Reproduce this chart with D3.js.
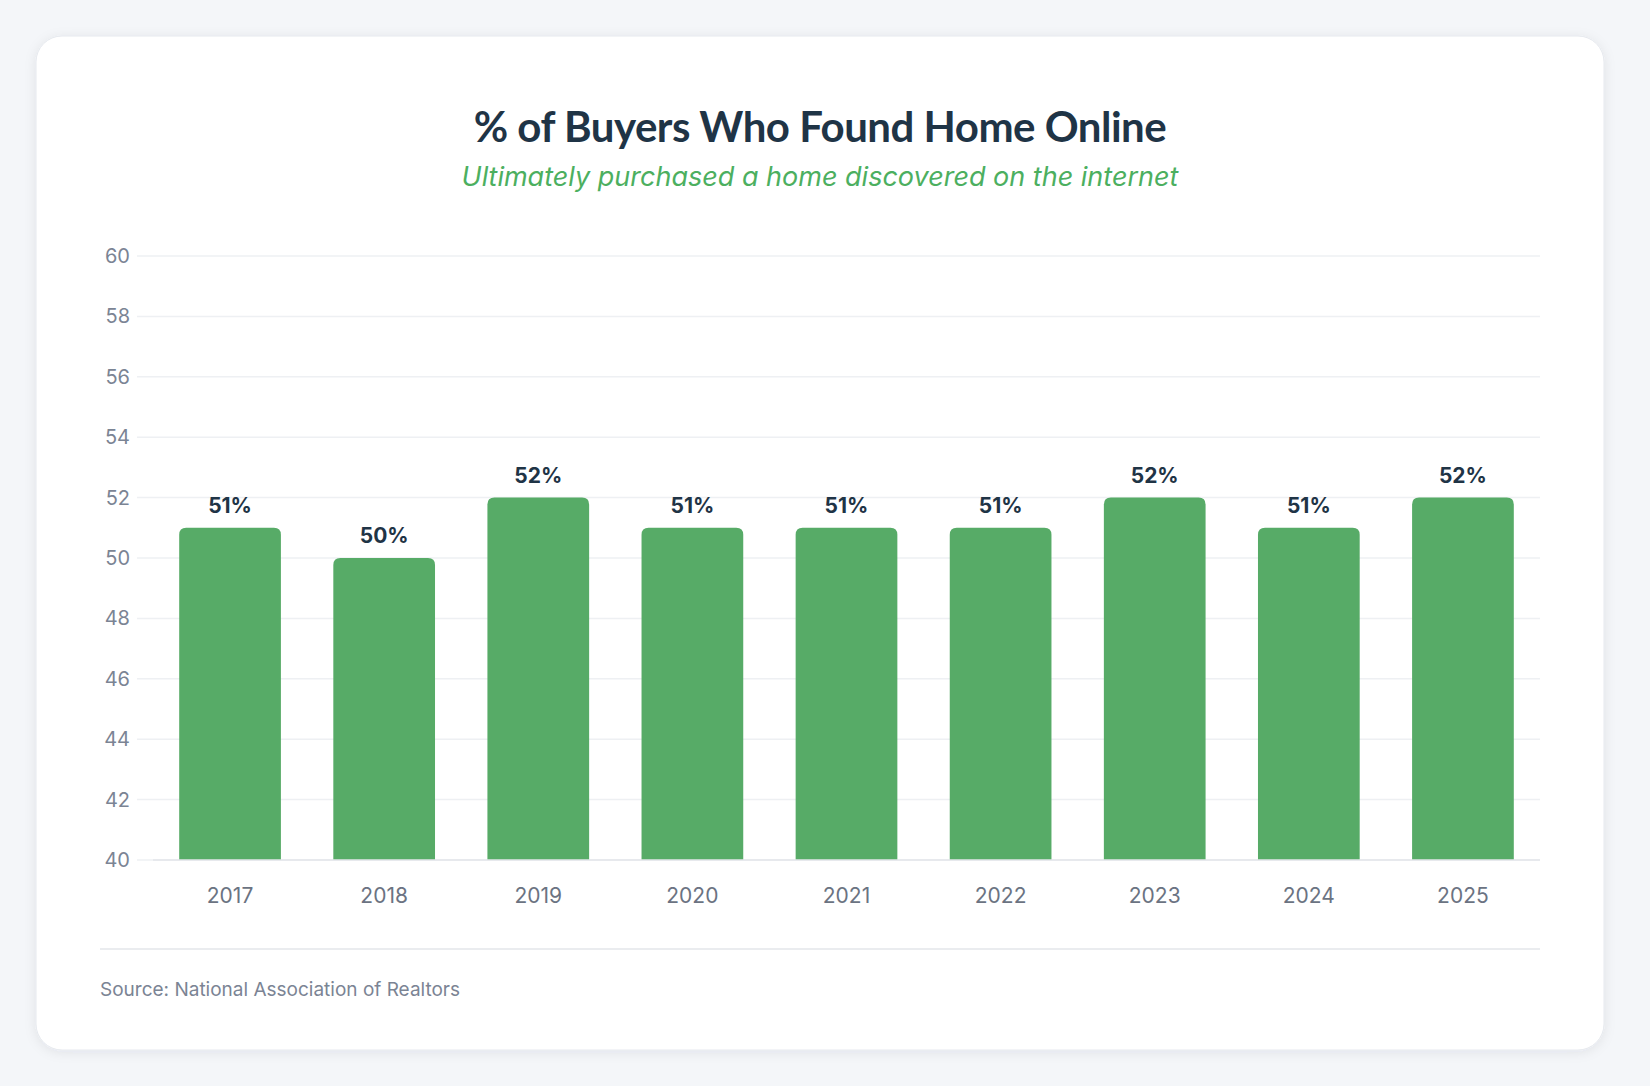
<!DOCTYPE html><html><head><meta charset="utf-8"><script src="https://cdn.jsdelivr.net/npm/d3@7"></script>
<style>body{margin:0;background:#f4f6f9;}svg{display:block}</style></head><body><svg id="c" width="1650" height="1086"></svg><script>
const years=["2017","2018","2019","2020","2021","2022","2023","2024","2025"];
const values=[51,50,52,51,51,51,52,51,52];
const yTicks=[40,42,44,46,48,50,52,54,56,58,60];
const svg=d3.select("#c");
const defs=svg.append("defs");
const f=defs.append("filter").attr("id","sh").attr("x","-5%").attr("y","-5%").attr("width","110%").attr("height","110%");
f.append("feDropShadow").attr("dx",0).attr("dy",2).attr("stdDeviation",6).attr("flood-color","#1e293b").attr("flood-opacity",0.08);
svg.append("rect").attr("x",36).attr("y",36).attr("width",1568).attr("height",1014).attr("rx",26).attr("fill","#fff").attr("stroke","#e6e9ee").attr("filter","url(#sh)");
svg.append("text").attr("x",820).attr("y",142).attr("text-anchor","middle").attr("font-family","Lato").attr("font-weight",700).attr("font-size",42).attr("fill","#1f3446").attr("letter-spacing",-0.5).text("% of Buyers Who Found Home Online");
svg.append("text").attr("x",820).attr("y",186).attr("text-anchor","middle").attr("font-family","Inter").attr("font-style","italic").attr("font-size",27).attr("fill","#4caf5f").text("Ultimately purchased a home discovered on the internet");
const x=d3.scaleBand().domain(years).range([153,1540]).paddingInner(0.34).paddingOuter(0.17);
const y=d3.scaleLinear().domain([40,60]).range([860,256]);
const g=svg.append("g");
g.selectAll(".gl").data(yTicks).join("line").attr("x1",137).attr("x2",1540).attr("y1",d=>y(d)).attr("y2",d=>y(d)).attr("stroke","#eef0f3").attr("stroke-width",1.5);
g.selectAll(".yl").data(yTicks).join("text").attr("x",130).attr("y",d=>y(d)+7).attr("text-anchor","end").attr("font-family","Inter").attr("font-size",20).attr("fill","#7b8494").text(d=>d);
const r=7;
g.selectAll(".bar").data(values).join("path").attr("fill","#57ab67").attr("d",(d,i)=>{const x0=x(years[i]),w=x.bandwidth(),y0=y(d),y1=y(40);return `M${x0},${y1}V${y0+r}Q${x0},${y0} ${x0+r},${y0}H${x0+w-r}Q${x0+w},${y0} ${x0+w},${y0+r}V${y1}Z`;});
g.selectAll(".vl").data(values).join("text").attr("x",(d,i)=>x(years[i])+x.bandwidth()/2).attr("y",d=>y(d)-15).attr("text-anchor","middle").attr("font-family","Inter").attr("font-weight",700).attr("font-size",21).attr("fill","#1f3446").text(d=>d+"%");
g.append("line").attr("x1",153).attr("x2",1540).attr("y1",860).attr("y2",860).attr("stroke","#e3e6ea").attr("stroke-width",1.5);
g.selectAll(".xl").data(years).join("text").attr("x",d=>x(d)+x.bandwidth()/2).attr("y",903).attr("text-anchor","middle").attr("font-family","Inter").attr("font-size",21).attr("fill","#6b7382").text(d=>d);
svg.append("line").attr("x1",100).attr("x2",1540).attr("y1",949).attr("y2",949).attr("stroke","#e3e6ea").attr("stroke-width",1.5);
svg.append("text").attr("x",100).attr("y",996).attr("font-family","Inter").attr("font-size",19).attr("fill","#7b8494").text("Source: National Association of Realtors");
</script></body></html>
